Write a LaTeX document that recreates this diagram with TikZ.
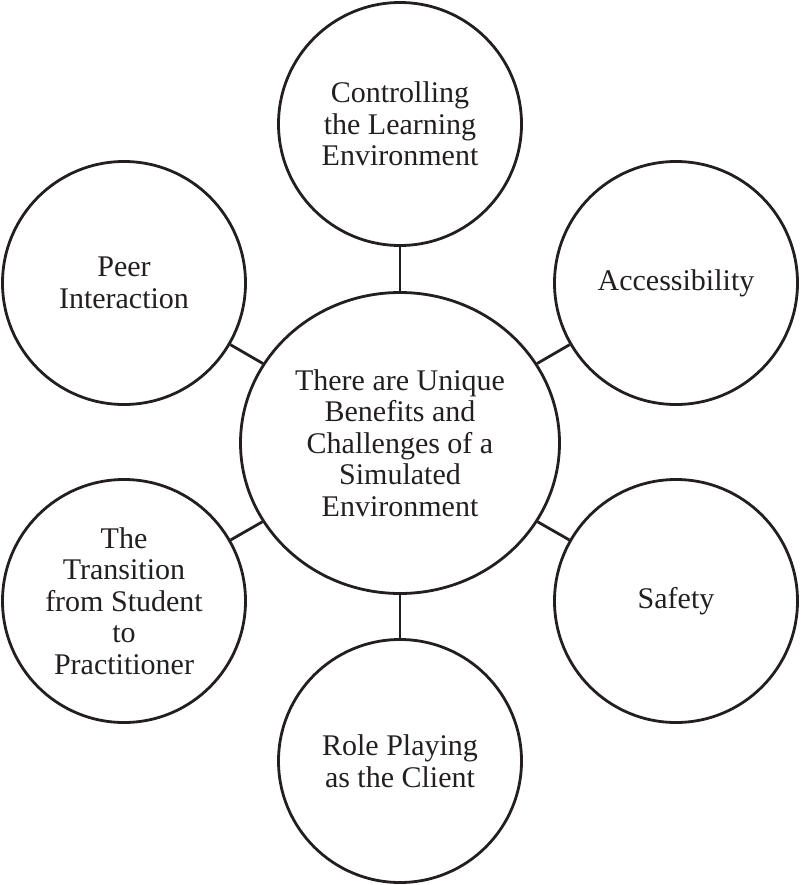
\documentclass[tikz,border=0pt]{standalone}
\usepackage{fontspec}
\setmainfont{Liberation Serif}
\usetikzlibrary{shapes.geometric}
\definecolor{ink}{HTML}{231F20}
\begin{document}
\begin{tikzpicture}[x=1pt,y=-1pt,
  satbox/.style={circle,draw=ink,line width=2.8pt,minimum size=243pt,inner sep=0pt,align=center,text=ink,font=\fontsize{30}{31.6}\selectfont},
  hubbox/.style={ellipse,draw=ink,line width=2.8pt,minimum width=319pt,minimum height=301pt,inner sep=0pt,align=center,text=ink,font=\fontsize{30}{31.6}\selectfont},
  link/.style={draw=ink,line width=2.8pt}]
\useasboundingbox (0,0) rectangle (800,885);
\node[hubbox] (hub) at (400,443) {There are Unique\\Benefits and\\Challenges of a\\Simulated\\Environment};
\node[satbox] (top) at (400,124) {Controlling\\the Learning\\Environment};
\node[satbox] (peer) at (124,283) {Peer\\Interaction};
\node[satbox] (acc) at (676,283) {Accessibility};
\node[satbox] (trans) at (124,601) {The\\Transition\\from Student\\to\\Practitioner};
\node[satbox] (safe) at (676,601) {Safety};
\node[satbox] (role) at (400,761) {Role Playing\\as the Client};
\draw[link] (hub) -- (top);
\draw[link] (hub) -- (peer);
\draw[link] (hub) -- (acc);
\draw[link] (hub) -- (trans);
\draw[link] (hub) -- (safe);
\draw[link] (hub) -- (role);
\end{tikzpicture}
\end{document}
